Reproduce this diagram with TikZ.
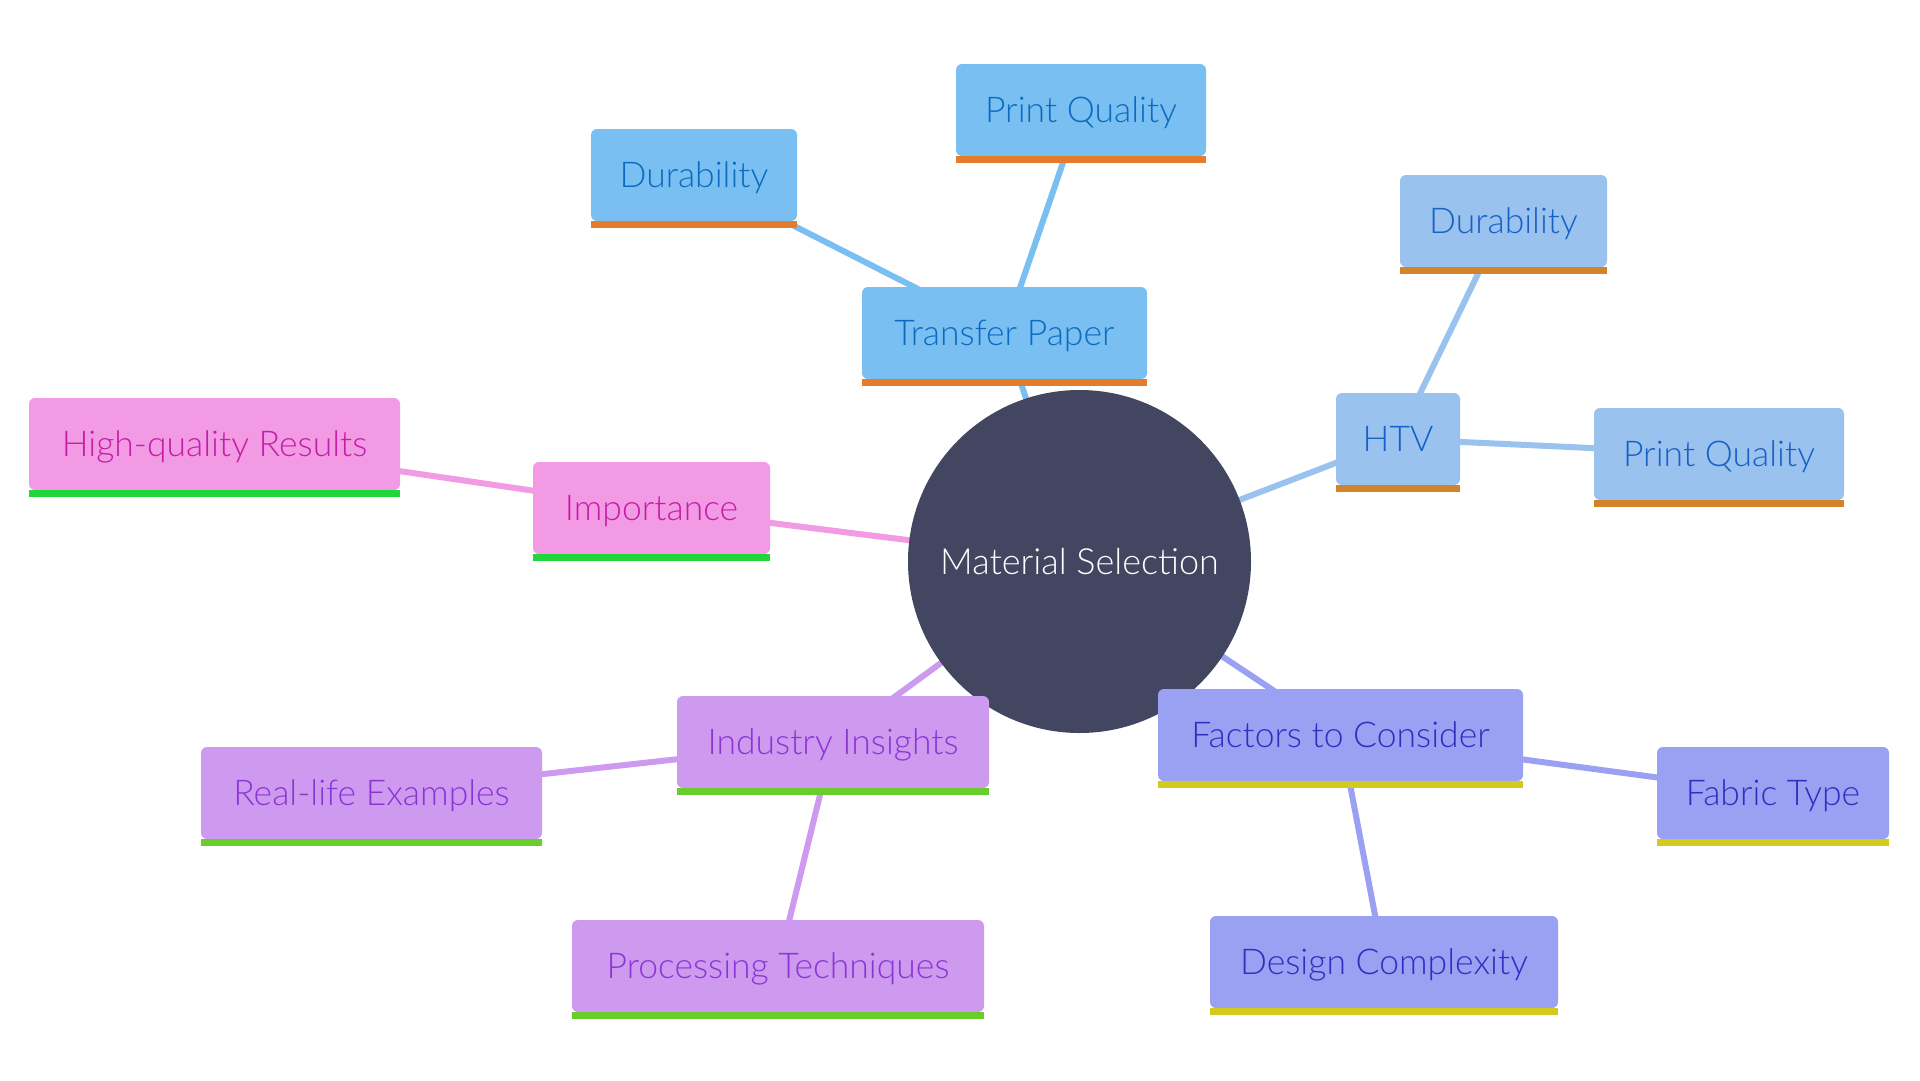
\documentclass[tikz,border=0pt]{standalone}
\usepackage{fontspec}
\setmainfont{Lato Light}
\pgfdeclarelayer{bg}
\pgfdeclarelayer{edges}
\pgfsetlayers{bg,edges,main}
\definecolor{rootfill}{HTML}{424660}
\definecolor{tpfill}{HTML}{7ABFF2}
\definecolor{tptext}{HTML}{0C6BC0}
\definecolor{tpbar}{HTML}{E57C2D}
\definecolor{htvfill}{HTML}{9AC2EF}
\definecolor{htvtext}{HTML}{1760C8}
\definecolor{htvbar}{HTML}{D3842A}
\definecolor{impfill}{HTML}{F29AE3}
\definecolor{imptext}{HTML}{C41EA9}
\definecolor{impbar}{HTML}{21D53D}
\definecolor{iifill}{HTML}{CD9AF0}
\definecolor{iitext}{HTML}{8B35D4}
\definecolor{iibar}{HTML}{69CD2B}
\definecolor{fcfill}{HTML}{9AA0F2}
\definecolor{fctext}{HTML}{2E2FBF}
\definecolor{fcbar}{HTML}{D4CA1E}
\tikzset{
  box/.style={rectangle, rounded corners=6pt, minimum height=92pt, inner sep=0pt,
    font=\fontsize{35.5}{40}\selectfont, text height=25pt, text depth=0pt},
  tpbox/.style={box, fill=tpfill, text=tptext},
  htvbox/.style={box, fill=htvfill, text=htvtext},
  impbox/.style={box, fill=impfill, text=imptext},
  iibox/.style={box, fill=iifill, text=iitext},
  fcbox/.style={box, fill=fcfill, text=fctext},
  rootnode/.style={circle, fill=rootfill, minimum size=343pt, inner sep=0pt, text=white,
    font=\fontsize{36}{40}\selectfont},
  edge/.style={line width=6pt}
}
\begin{document}
\begin{tikzpicture}[x=1pt,y=-1pt]
\begin{pgfonlayer}{bg}
\fill[white] (0,0) rectangle (1920,1080);
\end{pgfonlayer}
\useasboundingbox (0,0) rectangle (1920,1080);

\node[rootnode] (root) at (1079.5,561.5) {Material Selection};

\node[tpbox, minimum width=285pt] (tp) at (1004.5,333) {Transfer Paper};
\node[tpbox, minimum width=206pt] (tpd) at (694,175) {Durability};
\node[tpbox, minimum width=250pt] (tppq) at (1081,110) {Print Quality};

\node[htvbox, minimum width=124pt] (htv) at (1398,439) {HTV};
\node[htvbox, minimum width=207pt] (htvd) at (1503.5,221) {Durability};
\node[htvbox, minimum width=250pt] (htvpq) at (1719,454) {Print Quality};

\node[impbox, minimum width=237pt] (imp) at (651.5,508) {Importance};
\node[impbox, minimum width=371pt] (hqr) at (214.5,444) {High-quality Results};

\node[iibox, minimum width=312pt] (ii) at (833,742) {Industry Insights};
\node[iibox, minimum width=341pt] (rle) at (371.5,793) {Real-life Examples};
\node[iibox, minimum width=412pt] (pt) at (778,966) {Processing Techniques};

\node[fcbox, minimum width=365pt] (fc) at (1340.5,735) {Factors to Consider};
\node[fcbox, minimum width=232pt] (ft) at (1773,793) {Fabric Type};
\node[fcbox, minimum width=348pt] (dc) at (1384,962) {Design Complexity};

\foreach \n/\c in {tp/tpbar, tpd/tpbar, tppq/tpbar, htv/htvbar, htvd/htvbar, htvpq/htvbar,
  imp/impbar, hqr/impbar, ii/iibar, rle/iibar, pt/iibar, fc/fcbar, ft/fcbar, dc/fcbar}
  \fill[\c] (\n.south west) rectangle ([yshift=-7pt]\n.south east);

\begin{pgfonlayer}{edges}
\draw[edge, tpfill] (root.center) -- (tp.center);
\draw[edge, tpfill] (tp.center) -- (tpd.center);
\draw[edge, tpfill] (tp.center) -- (tppq.center);
\draw[edge, htvfill] (root.center) -- (htv.center);
\draw[edge, htvfill] (htv.center) -- (htvd.center);
\draw[edge, htvfill] (htv.center) -- (htvpq.center);
\draw[edge, impfill] (root.center) -- (imp.center);
\draw[edge, impfill] (imp.center) -- (hqr.center);
\draw[edge, iifill] (root.center) -- (ii.center);
\draw[edge, iifill] (ii.center) -- (rle.center);
\draw[edge, iifill] (ii.center) -- (pt.center);
\draw[edge, fcfill] (root.center) -- (fc.center);
\draw[edge, fcfill] (fc.center) -- (ft.center);
\draw[edge, fcfill] (fc.center) -- (dc.center);
\end{pgfonlayer}
\end{tikzpicture}
\end{document}
